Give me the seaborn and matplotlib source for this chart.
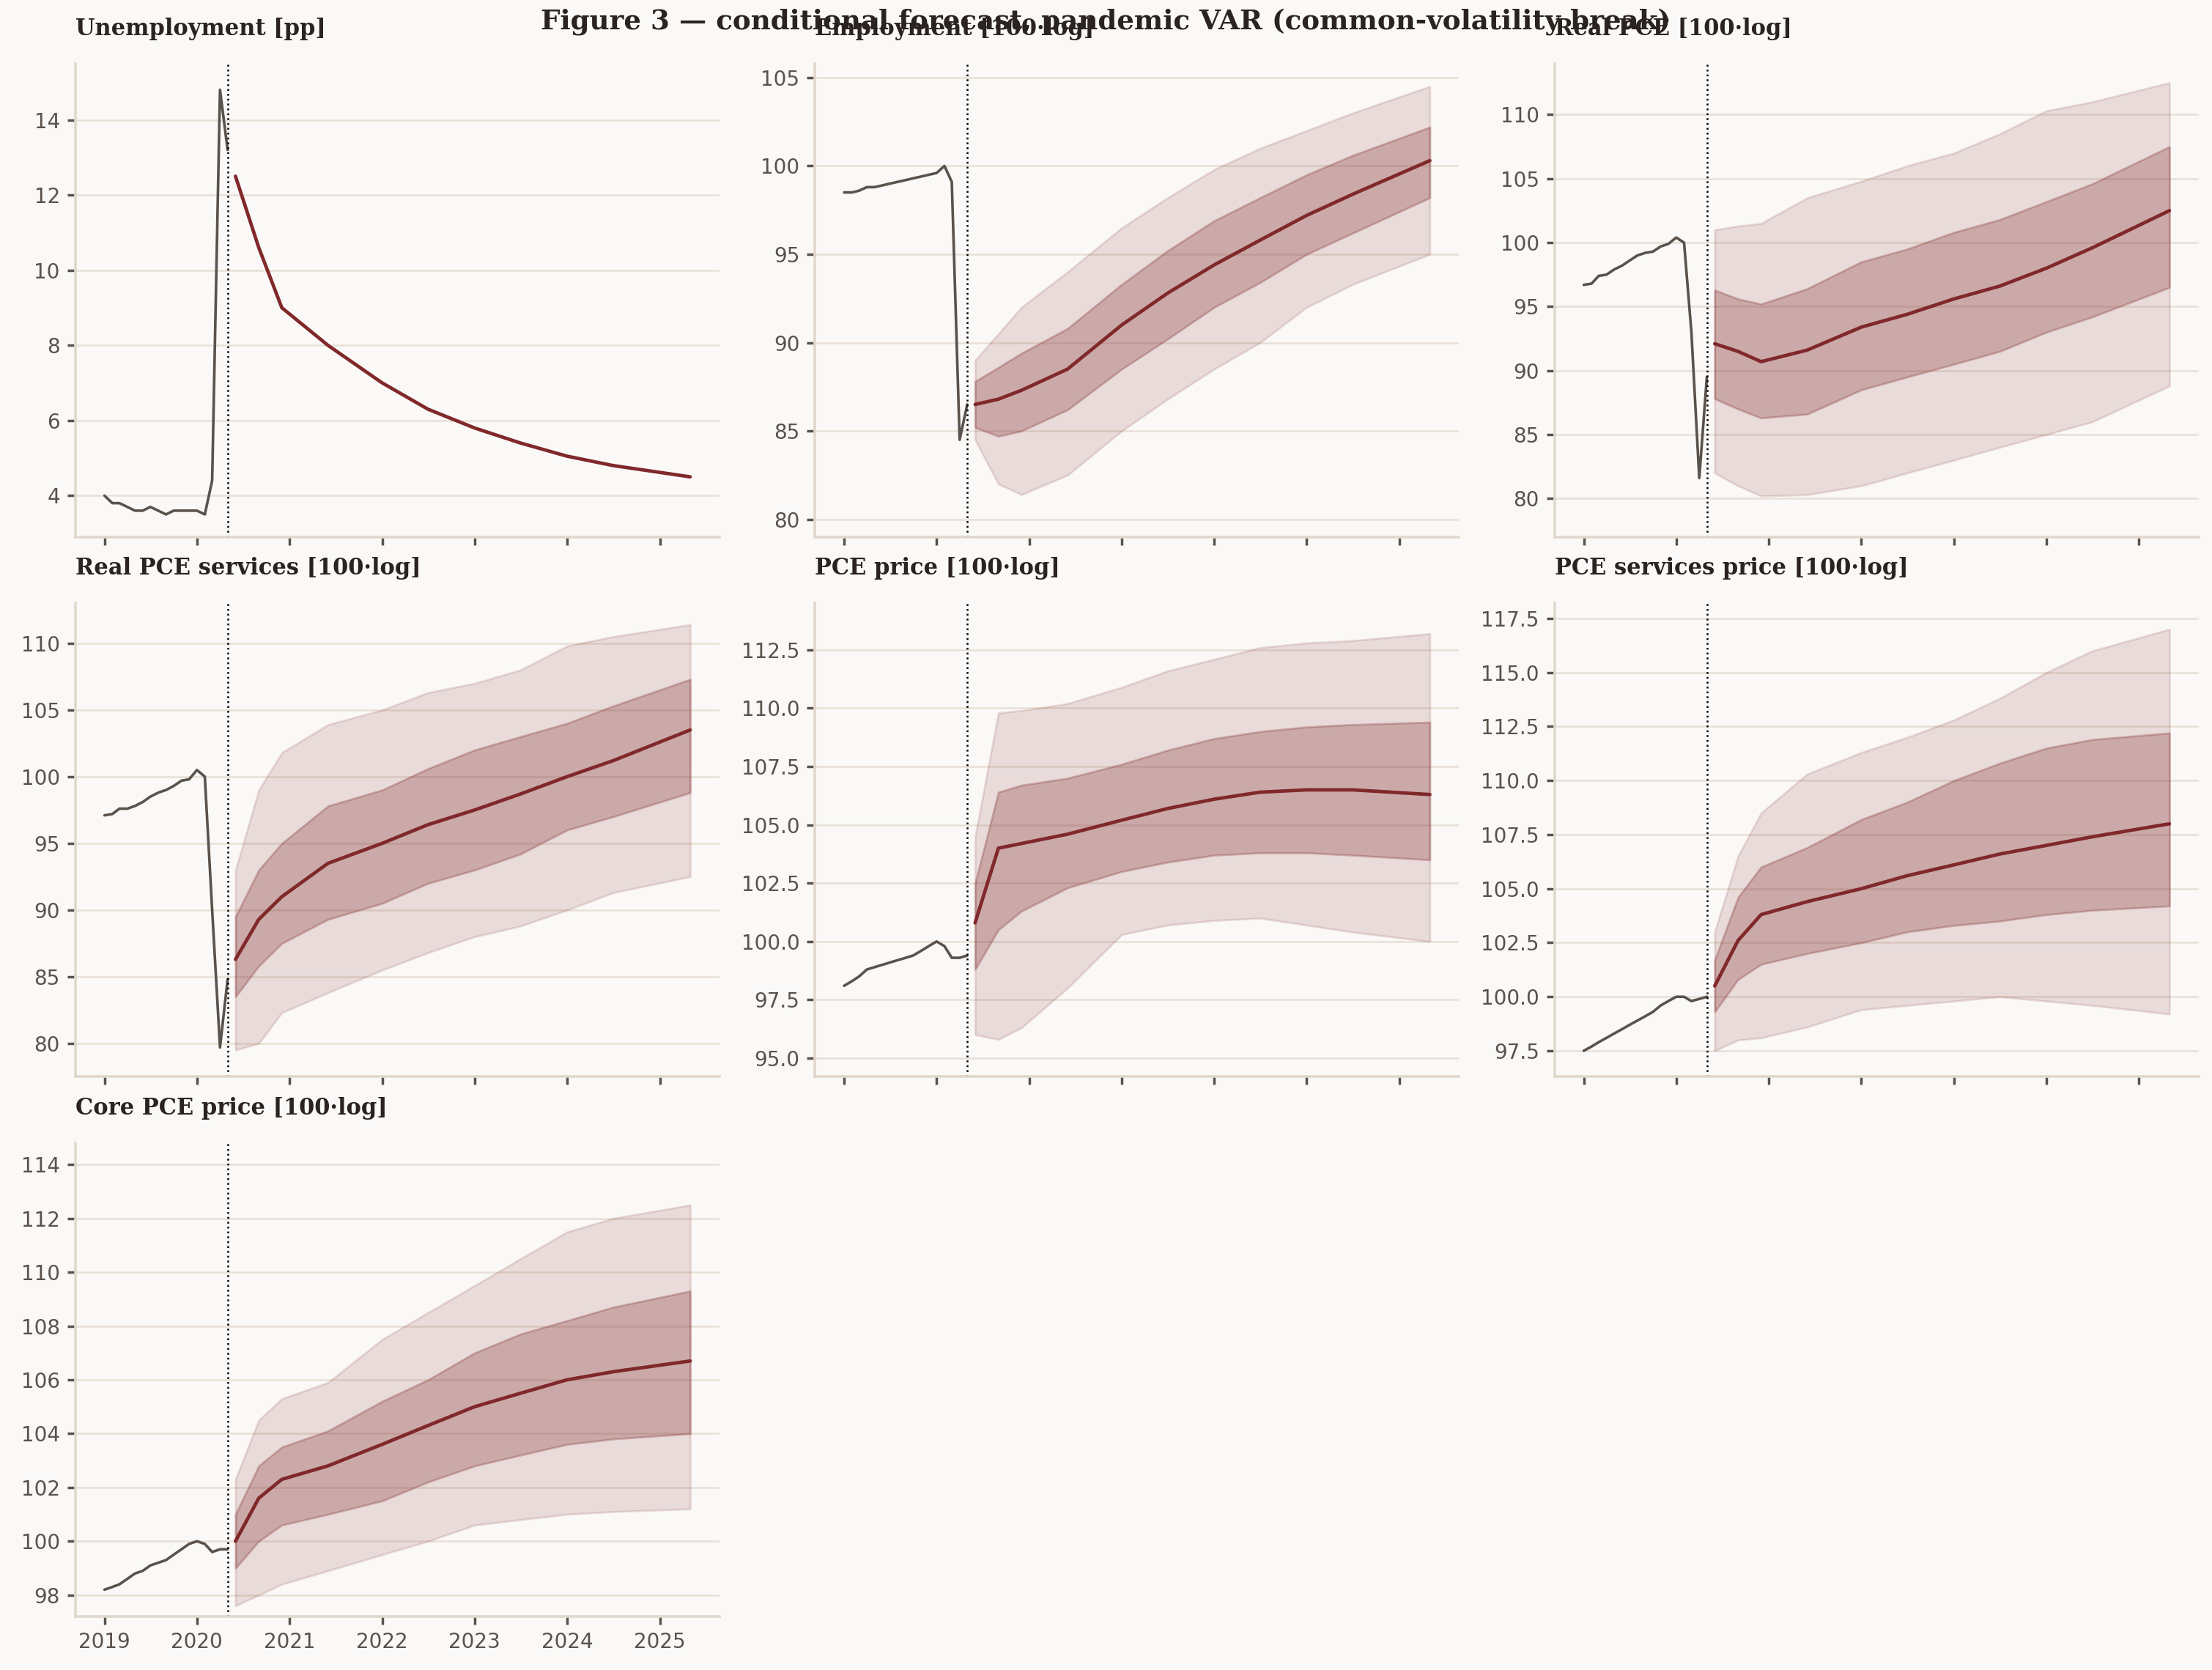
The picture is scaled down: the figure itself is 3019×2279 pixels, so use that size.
import numpy as np
import pandas as pd
import seaborn as sns
import matplotlib.pyplot as plt
import matplotlib.dates as mdates

# ------------------- DATA -------------------

hist_dates = pd.date_range("2019-01-01", "2020-05-01", freq="MS")
fc_dates = pd.to_datetime(["2020-06-01", "2020-09-01", "2020-12-01", "2021-06-01", "2022-01-01",
                           "2022-07-01", "2023-01-01", "2023-07-01", "2024-01-01", "2024-07-01",
                           "2025-05-01"])
cut_date = pd.Timestamp("2020-05-01")

titles = ["Unemployment [pp]", "Employment [100·log]", "Real PCE [100·log]",
          "Real PCE services [100·log]", "PCE price [100·log]", "PCE services price [100·log]",
          "Core PCE price [100·log]"]

hist = {
    "unemp": [4.0, 3.8, 3.8, 3.7, 3.6, 3.6, 3.7, 3.6, 3.5, 3.6, 3.6, 3.6, 3.6, 3.5, 4.4, 14.8, 13.2],
    "emp": [98.5, 98.5, 98.6, 98.8, 98.8, 98.9, 99.0, 99.1, 99.2, 99.3, 99.4, 99.5, 99.6, 100.0, 99.1, 84.5, 86.5],
    "rpce": [96.7, 96.8, 97.4, 97.5, 97.9, 98.2, 98.6, 99.0, 99.2, 99.3, 99.7, 99.9, 100.4, 100.0, 93.0, 81.6, 89.5],
    "rpces": [97.1, 97.2, 97.6, 97.6, 97.8, 98.1, 98.5, 98.8, 99.0, 99.3, 99.7, 99.8, 100.5, 100.0, 90.0, 79.7, 84.8],
    "pce": [98.1, 98.3, 98.5, 98.8, 98.9, 99.0, 99.1, 99.2, 99.3, 99.4, 99.6, 99.8, 100.0, 99.8, 99.3, 99.3, 99.4],
    "pces": [97.5, 97.7, 97.9, 98.1, 98.3, 98.5, 98.7, 98.9, 99.1, 99.3, 99.6, 99.8, 100.0, 100.0, 99.8, 99.9, 100.0],
    "core": [98.2, 98.3, 98.4, 98.6, 98.8, 98.9, 99.1, 99.2, 99.3, 99.5, 99.7, 99.9, 100.0, 99.9, 99.6, 99.7, 99.7],
}

median = {
    "unemp": [12.5, 10.6, 9.0, 8.0, 7.0, 6.3, 5.8, 5.4, 5.05, 4.8, 4.5],
    "emp": [86.5, 86.8, 87.3, 88.5, 91.0, 92.8, 94.4, 95.8, 97.2, 98.4, 100.3],
    "rpce": [92.1, 91.5, 90.7, 91.6, 93.4, 94.4, 95.6, 96.6, 98.0, 99.6, 102.5],
    "rpces": [86.3, 89.3, 91.0, 93.5, 95.0, 96.4, 97.5, 98.7, 100.0, 101.2, 103.5],
    "pce": [100.8, 104.0, 104.2, 104.6, 105.2, 105.7, 106.1, 106.4, 106.5, 106.5, 106.3],
    "pces": [100.5, 102.6, 103.8, 104.4, 105.0, 105.6, 106.1, 106.6, 107.0, 107.4, 108.0],
    "core": [100.0, 101.6, 102.3, 102.8, 103.6, 104.3, 105.0, 105.5, 106.0, 106.3, 106.7],
}

inner_lo = {
    "emp": [85.2, 84.7, 85.0, 86.2, 88.5, 90.2, 92.0, 93.4, 95.0, 96.2, 98.2],
    "rpce": [87.8, 87.0, 86.3, 86.6, 88.5, 89.5, 90.5, 91.5, 93.0, 94.2, 96.5],
    "rpces": [83.5, 85.8, 87.5, 89.3, 90.5, 92.0, 93.0, 94.2, 96.0, 97.0, 98.8],
    "pce": [98.8, 100.5, 101.3, 102.3, 103.0, 103.4, 103.7, 103.8, 103.8, 103.7, 103.5],
    "pces": [99.3, 100.8, 101.5, 102.0, 102.5, 103.0, 103.3, 103.5, 103.8, 104.0, 104.2],
    "core": [99.0, 100.0, 100.6, 101.0, 101.5, 102.2, 102.8, 103.2, 103.6, 103.8, 104.0],
}
inner_hi = {
    "emp": [87.8, 88.6, 89.4, 90.8, 93.3, 95.2, 96.9, 98.2, 99.5, 100.6, 102.2],
    "rpce": [96.3, 95.6, 95.2, 96.4, 98.5, 99.5, 100.8, 101.8, 103.2, 104.6, 107.5],
    "rpces": [89.5, 93.0, 95.0, 97.8, 99.0, 100.6, 102.0, 103.0, 104.0, 105.3, 107.3],
    "pce": [102.5, 106.4, 106.7, 107.0, 107.6, 108.2, 108.7, 109.0, 109.2, 109.3, 109.4],
    "pces": [101.7, 104.6, 106.0, 106.9, 108.2, 109.0, 110.0, 110.8, 111.5, 111.9, 112.2],
    "core": [101.0, 102.8, 103.5, 104.1, 105.2, 106.0, 107.0, 107.7, 108.2, 108.7, 109.3],
}
outer_lo = {
    "emp": [84.5, 82.0, 81.4, 82.5, 85.0, 86.8, 88.5, 90.0, 92.0, 93.3, 95.0],
    "rpce": [82.0, 81.0, 80.2, 80.3, 81.0, 82.0, 83.0, 84.0, 85.0, 86.0, 88.8],
    "rpces": [79.5, 80.0, 82.3, 83.8, 85.5, 86.8, 88.0, 88.8, 90.0, 91.3, 92.5],
    "pce": [96.0, 95.8, 96.3, 98.0, 100.3, 100.7, 100.9, 101.0, 100.7, 100.4, 100.0],
    "pces": [97.5, 98.0, 98.1, 98.6, 99.4, 99.6, 99.8, 100.0, 99.8, 99.6, 99.2],
    "core": [97.6, 98.0, 98.4, 98.9, 99.5, 100.0, 100.6, 100.8, 101.0, 101.1, 101.2],
}
outer_hi = {
    "emp": [89.0, 90.5, 92.0, 94.0, 96.5, 98.2, 99.8, 101.0, 102.0, 103.0, 104.5],
    "rpce": [101.0, 101.3, 101.5, 103.5, 104.8, 106.0, 107.0, 108.5, 110.3, 111.0, 112.5],
    "rpces": [93.0, 99.0, 101.8, 103.9, 105.0, 106.3, 107.0, 108.0, 109.8, 110.5, 111.4],
    "pce": [104.5, 109.8, 109.9, 110.2, 110.9, 111.6, 112.1, 112.6, 112.8, 112.9, 113.2],
    "pces": [103.0, 106.5, 108.5, 110.3, 111.3, 112.0, 112.8, 113.8, 115.0, 116.0, 117.0],
    "core": [102.3, 104.5, 105.3, 105.9, 107.5, 108.5, 109.5, 110.5, 111.5, 112.0, 112.5],
}

keys = ["unemp", "emp", "rpce", "rpces", "pce", "pces", "core"]
ylims = {"unemp": (2.9, 15.5), "emp": (79, 105.8), "rpce": (77, 114), "rpces": (77.5, 113),
         "pce": (94.2, 114.5), "pces": (96.3, 118.2), "core": (97.2, 114.8)}

# ------------------- PLOT -------------------

bg = "#faf9f7"
hist_col = "#5a524c"
fc_col = "#80282a"

sns.set_theme(style="white")
plt.rcParams["font.family"] = ["DejaVu Sans"]
plt.rcParams["axes.facecolor"] = bg
plt.rcParams["figure.facecolor"] = bg

fig, axes = plt.subplots(3, 3, figsize=(15.095, 11.395), dpi=200, sharex=True)
fig.subplots_adjust(left=0.034, right=0.994, top=0.962, bottom=0.032, wspace=0.148, hspace=0.14)

for i, k in enumerate(keys):
    ax = axes.flat[i]
    if k in outer_lo:
        ax.fill_between(fc_dates, outer_lo[k], outer_hi[k], color=fc_col, alpha=0.14, lw=1)
        ax.fill_between(fc_dates, inner_lo[k], inner_hi[k], color=fc_col, alpha=0.28, lw=1)
    sns.lineplot(x=hist_dates, y=hist[k], ax=ax, color=hist_col, lw=1.3)
    sns.lineplot(x=fc_dates, y=median[k], ax=ax, color=fc_col, lw=1.7)
    ax.axvline(cut_date, color="black", ls=":", lw=0.9)
    ax.set_ylim(*ylims[k])
    ax.set_title(titles[i], loc="left", fontsize=11, fontweight="bold", family="DejaVu Serif",
                 color="#2a2320", pad=14)
    ax.grid(axis="y", color="#e8e0d6", lw=0.9)
    ax.set_axisbelow(True)
    sns.despine(ax=ax)
    for s in ["left", "bottom"]:
        ax.spines[s].set_color("#e0d8cc")
        ax.spines[s].set_linewidth(1.3)
    ax.tick_params(axis="both", colors="#5a524c", labelsize=10, length=4, color="#5a524c",
                   bottom=True, left=True)
    ax.set_xlabel("")
    ax.set_ylabel("")

for ax in axes.flat[len(keys):]:
    ax.set_visible(False)

axes[2, 0].xaxis.set_major_locator(mdates.YearLocator())
axes[2, 0].xaxis.set_major_formatter(mdates.DateFormatter("%Y"))
axes[2, 0].xaxis.set_tick_params(labelbottom=True)

fig.suptitle("Figure 3 — conditional forecast, pandemic VAR (common-volatility break)",
             fontsize=13.4, fontweight="bold", family="DejaVu Serif", color="#2a2320", y=0.995)

fig.savefig("out.png", dpi=200, facecolor=bg)
